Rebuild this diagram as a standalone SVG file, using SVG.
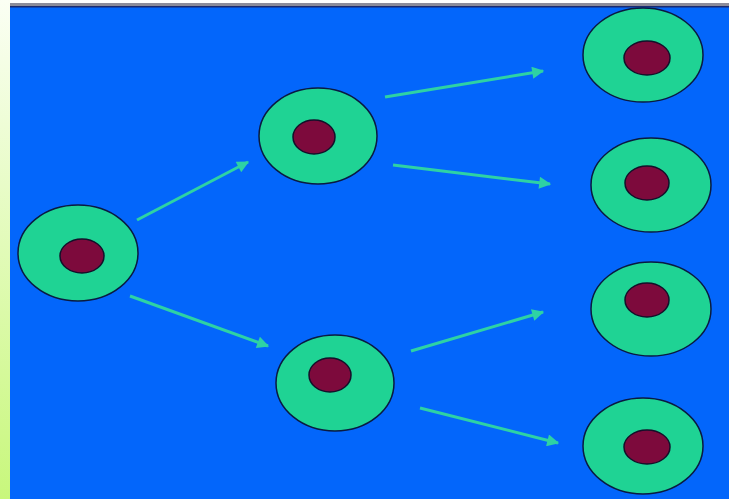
<svg xmlns="http://www.w3.org/2000/svg" width="729" height="499" viewBox="0 0 729 499">
  <style>
    .cell { fill: #1fd394; stroke: #0a1a40; stroke-width: 1.5; }
    .nucleus { fill: #7d0a3c; stroke: #14102a; stroke-width: 1.5; }
    .link { stroke: #2ed2a4; stroke-width: 3; fill: none; marker-end: url(#head); }
  </style>
  <defs>
    <linearGradient id="strip" x1="0" y1="0" x2="0" y2="1">
      <stop offset="0" stop-color="#fbfff4"/>
      <stop offset="1" stop-color="#c8f77c"/>
    </linearGradient>
    <marker id="head" viewBox="0 0 10 10" refX="9" refY="5" markerWidth="4.5" markerHeight="4" orient="auto" markerUnits="strokeWidth">
      <path d="M0,0 L10,5 L0,10 Z" fill="#2ed2a4"/>
    </marker>
  </defs>

  <!-- frame -->
  <rect x="0" y="0" width="729" height="499" fill="#ffffff"/>
  <rect x="0" y="0" width="10" height="499" fill="url(#strip)"/>
  <rect x="10" y="3" width="719" height="3" fill="#8c8c9a"/>
  <rect x="10" y="6" width="719" height="493" fill="#0366fb"/>
  <rect x="10" y="6" width="719" height="1.5" fill="#1a2a70"/>

  <!-- connectors -->
  <g id="connectors">
    <line class="link" x1="137" y1="220" x2="248" y2="162"/>
    <line class="link" x1="130" y1="296" x2="268" y2="346"/>
    <line class="link" x1="385" y1="97" x2="543" y2="71"/>
    <line class="link" x1="393" y1="165" x2="550" y2="184"/>
    <line class="link" x1="411" y1="351" x2="543" y2="312"/>
    <line class="link" x1="420" y1="408" x2="558" y2="443"/>
  </g>

  <!-- cells -->
  <g id="cell-root">
    <ellipse class="cell" cx="78" cy="253" rx="60" ry="48"/>
    <ellipse class="nucleus" cx="82" cy="256" rx="22" ry="17"/>
  </g>
  <g id="cell-upper">
    <ellipse class="cell" cx="318" cy="136" rx="59" ry="48"/>
    <ellipse class="nucleus" cx="314" cy="137" rx="21" ry="17"/>
  </g>
  <g id="cell-lower">
    <ellipse class="cell" cx="335" cy="383" rx="59" ry="48"/>
    <ellipse class="nucleus" cx="330" cy="375" rx="21" ry="17"/>
  </g>
  <g id="cell-right-1">
    <ellipse class="cell" cx="643" cy="55" rx="60" ry="47"/>
    <ellipse class="nucleus" cx="647" cy="58" rx="23" ry="17"/>
  </g>
  <g id="cell-right-2">
    <ellipse class="cell" cx="651" cy="185" rx="60" ry="47"/>
    <ellipse class="nucleus" cx="647" cy="183" rx="22" ry="17"/>
  </g>
  <g id="cell-right-3">
    <ellipse class="cell" cx="651" cy="309" rx="60" ry="47"/>
    <ellipse class="nucleus" cx="647" cy="300" rx="22" ry="17"/>
  </g>
  <g id="cell-right-4">
    <ellipse class="cell" cx="643" cy="446" rx="60" ry="48"/>
    <ellipse class="nucleus" cx="647" cy="447" rx="23" ry="17"/>
  </g>
</svg>
